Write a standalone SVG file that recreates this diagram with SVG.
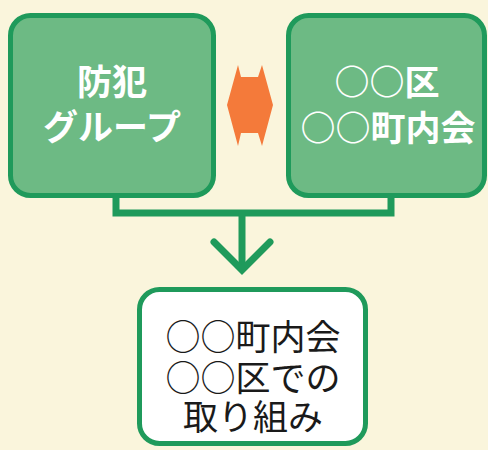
<svg xmlns="http://www.w3.org/2000/svg" width="488" height="450" viewBox="0 0 488 450">
<style>
.g{fill:#6dba84;stroke:#1f9a5b;stroke-width:5}
.w{fill:#ffffff;stroke:#1f9a5b;stroke-width:5}
.tw{fill:#ffffff;font-family:"Noto Sans CJK JP",sans-serif;font-weight:bold;font-size:35px;text-anchor:middle}
.tb{fill:#1a1a1a;font-family:"Noto Sans CJK JP",sans-serif;font-weight:normal;font-size:35px;text-anchor:middle}
.c{fill:none;stroke:#1f9a5b;stroke-width:7}
</style>
<rect width="488" height="450" fill="#faf5dc"/>
<g id="connectors">
<polyline class="c" points="116,196 116,213 391,213 391,196"/>
<line class="c" x1="242" y1="213" x2="242" y2="270"/>
<polyline class="c" points="214,242 242,270 270,242" stroke-linecap="round"/>
<polygon fill="#f47a3a" points="227,105 238,65 241,77 258,77 262,65 273,105 262,146 258,133 241,133 238,146"/>
</g>
<g id="bouhan">
<rect class="g" x="10.5" y="15.5" width="203" height="180" rx="20"/>
<text class="tw" x="112" y="95">防犯</text>
<text class="tw" x="112" y="140">グループ</text>
</g>
<g id="chounaikai">
<rect class="g" x="288.5" y="15.5" width="196" height="180" rx="20"/>
<text class="tw" x="387" y="95">○○区</text>
<text class="tw" x="388" y="141">○○町内会</text>
</g>
<g id="torikumi">
<rect class="w" x="139.5" y="289.5" width="226" height="154" rx="20"/>
<text class="tb" x="253" y="350">○○町内会</text>
<text class="tb" x="253" y="391">○○区での</text>
<text class="tb" x="253" y="430">取り組み</text>
</g>
</svg>
